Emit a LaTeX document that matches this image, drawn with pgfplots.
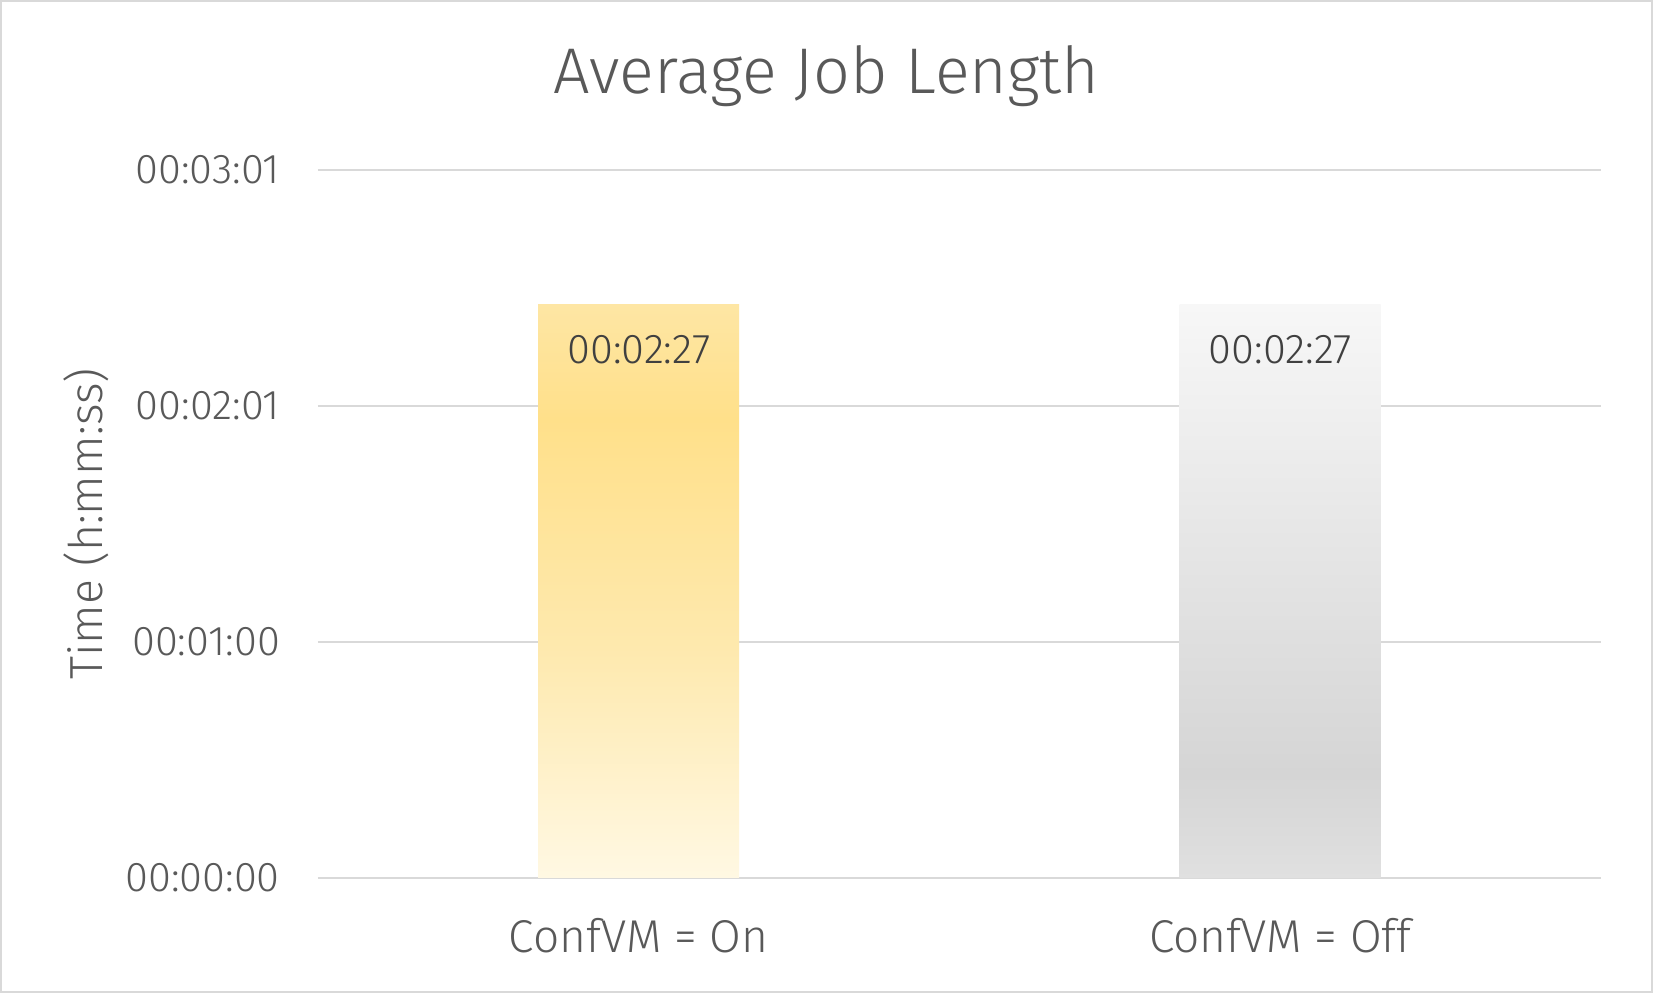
\documentclass[border=0pt]{standalone}
\usepackage{fontspec}
\setmainfont{Fira Sans}[UprightFont=* Light]
\usepackage{pgfplots}
\pgfplotsset{compat=1.18}
\definecolor{txt}{HTML}{595959}
\definecolor{lbl}{HTML}{404040}
\definecolor{gridc}{HTML}{D9D9D9}
\definecolor{y1}{HTML}{FFF8E3}
\definecolor{y2}{HTML}{FEE9AE}
\definecolor{y3}{HTML}{FFE08A}
\definecolor{y4}{HTML}{FEE6A4}
\definecolor{g1}{HTML}{E0E0E0}
\definecolor{g2}{HTML}{D5D5D5}
\definecolor{g3}{HTML}{F7F7F7}
\pgfdeclareverticalshading{yellowshade}{100bp}{color(0bp)=(y1); color(25bp)=(y1); color(45bp)=(y2); color(65bp)=(y3); color(75bp)=(y4); color(100bp)=(y4)}
\pgfdeclareverticalshading{grayshade}{100bp}{color(0bp)=(g1); color(25bp)=(g1); color(34bp)=(g2); color(75bp)=(g3); color(100bp)=(g3)}
\begin{document}
\begin{tikzpicture}
\useasboundingbox (0,0) rectangle (413.25pt,248.25pt);
\fill[white] (0,0) rectangle (413.25pt,248.25pt);
\draw[gridc, line width=0.5pt] (0.25pt,0.25pt) rectangle (413pt,248pt);
\begin{axis}[
  at={(79.5pt,28.75pt)}, anchor=south west,
  scale only axis, width=320.75pt, height=177pt,
  xmin=-0.5, xmax=1.5, ymin=0, ymax=181.44,
  ybar, bar width=50.25pt, bar shift=0pt,
  xtick={0,1}, xticklabels={ConfVM = On, ConfVM = Off},
  ytick={0,60.48,120.96,181.44},
  yticklabels={00:00:00,00:01:00,00:02:01,00:03:01},
  /pgf/number format/assume math mode=true,
  axis line style={draw=none},
  xmajorgrids=false, ymajorgrids=true,
  grid style={draw=gridc, line width=0.5pt},
  major tick length=0pt,
  yticklabel style={font=\fontsize{10.4}{12}\selectfont, text=txt, xshift=-6pt},
  xticklabel style={font=\fontsize{11.5}{14}\selectfont, text=txt, anchor=center, yshift=-14.3pt},
  nodes near coords,
  point meta=explicit symbolic,
  every node near coord/.append style={anchor=center, yshift=-11.3pt, font=\fontsize{10.4}{12}\selectfont, text=lbl},
  clip=false,
]
\addplot[draw=none, shade, shading=yellowshade] coordinates {(0,147) [00:02:27]};
\addplot[draw=none, shade, shading=grayshade] coordinates {(1,147) [00:02:27]};
\end{axis}
\node[text=txt, font=\fontsize{16.15}{19}\selectfont] at (206.6pt,229.25pt) {Average Job Length};
\node[text=txt, rotate=90, font=\fontsize{11.6}{13}\selectfont] at (21.6pt,117.25pt) {Time (h:mm:ss)};
\end{tikzpicture}
\end{document}
